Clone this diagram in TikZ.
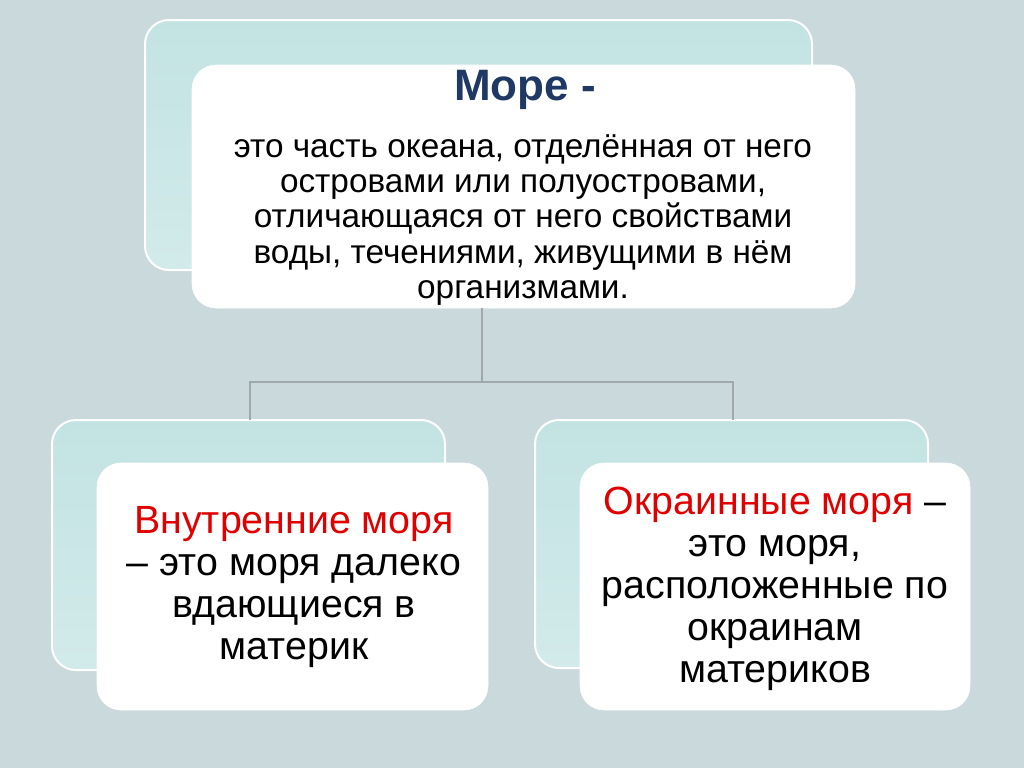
\documentclass[tikz,border=0pt]{standalone}
\usepackage{fontspec}
\setmainfont{Liberation Sans}
\definecolor{bgcol}{HTML}{C9D9DC}
\definecolor{backcol}{HTML}{B4DCDC}
\definecolor{navy}{HTML}{1F3864}
\definecolor{redtxt}{HTML}{E00000}
\definecolor{linecol}{HTML}{A0A8AC}
\tikzset{
  backbox/.style={draw=white, line width=1.5pt, rounded corners=18pt, top color=backcol!80, bottom color=backcol!60!white},
  frontbox/.style={fill=white, draw=white, rounded corners=18pt},
  linktxt/.style={align=center, font=\fontsize{29.5}{31.5}\selectfont},
}
\begin{document}
\begin{tikzpicture}[x=0.75pt, y=-0.75pt]
\fill[bgcol] (0,0) rectangle (1024,768);
\useasboundingbox (0,0) rectangle (1024,768);
% top box
\draw[backbox] (145,20) rectangle (812,270);
\draw[frontbox] (192,65) rectangle (855,308);
\node[font=\bfseries\fontsize{33}{38}\selectfont, text=navy] (title) at (525,90) {Море -};
\node[align=center, font=\fontsize{25}{26.5}\selectfont] (def) at (523,220)
  {это часть океана, отделённая от него\\островами или полуостровами,\\отличающаяся от него свойствами\\воды, течениями, живущими в нём\\организмами.};
% lower boxes
\draw[backbox] (52,420) rectangle (445,670);
\draw[frontbox] (97,463) rectangle (488,710);
\draw[backbox] (535,420) rectangle (928,668);
\draw[frontbox] (580,463) rectangle (970,710);
\node[linktxt] (inner) at (294,587)
  {\textcolor{redtxt}{Внутренние моря}\\– это моря далеко\\вдающиеся в\\материк};
\node[linktxt] (outer) at (775,589)
  {\textcolor{redtxt}{Окраинные моря} –\\это моря,\\расположенные по\\окраинам\\материков};
% connectors
\coordinate (top) at (482,308);
\coordinate (mid) at (482,382);
\coordinate (ml) at (250,382);
\coordinate (mr) at (733,382);
\coordinate (bl) at (250,420);
\coordinate (br) at (733,420);
\draw[linecol, line width=1.5pt] (top) -- (mid);
\draw[linecol, line width=1.5pt] (bl) -- (ml) -- (mr) -- (br);
\end{tikzpicture}
\end{document}
